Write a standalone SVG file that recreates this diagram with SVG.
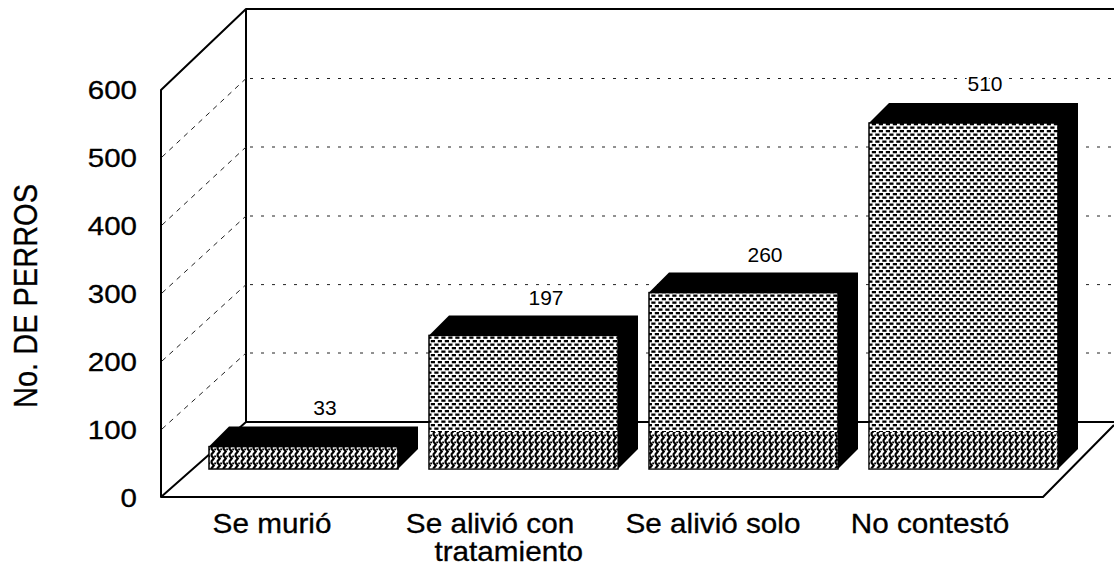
<svg xmlns="http://www.w3.org/2000/svg" width="1114" height="580" viewBox="0 0 1114 580">
<style>
.wall{fill:none;stroke:#000;stroke-width:2;stroke-linejoin:round}
.grid{fill:none;stroke:#222;stroke-width:1;stroke-dasharray:3 8}
.diag{fill:none;stroke:#222;stroke-width:1;stroke-dasharray:5 5}
.ax{font-family:"Liberation Sans",Arial,sans-serif;font-size:25px;fill:#000;text-anchor:end;stroke:#000;stroke-width:0.3}
.cat{font-family:"Liberation Sans",Arial,sans-serif;font-size:27px;fill:#000;text-anchor:middle;stroke:#000;stroke-width:0.3}
.val{font-family:"Liberation Sans",Arial,sans-serif;font-size:21px;fill:#000;text-anchor:middle;stroke:#fff;stroke-width:5;paint-order:stroke}
.title{font-family:"Liberation Sans",Arial,sans-serif;font-size:29px;fill:#000;text-anchor:middle;stroke:#000;stroke-width:0.3}
.dark{fill:#000}
.face{stroke:#000;stroke-width:1.5}
</style>
<defs>
<pattern id="dots" width="7" height="7" patternUnits="userSpaceOnUse">
<rect width="7" height="7" fill="#fff"/>
<rect x="0.3" y="0.5" width="4.2" height="2.3" fill="#000"/>
<rect x="3.8" y="4" width="4.2" height="2.3" fill="#000"/>
<rect x="-3.2" y="4" width="4.2" height="2.3" fill="#000"/>
</pattern>
<pattern id="zig" width="6" height="7" patternUnits="userSpaceOnUse">
<rect width="6" height="7" fill="#fff"/>
<path d="M1 0 L3.8 3.5 L1 7" fill="none" stroke="#000" stroke-width="2.2"/>
<rect x="4.2" y="0.5" width="1.8" height="1.8" fill="#000"/>
</pattern>
</defs>

<g id="walls">
<path class="wall" d="M246 9 L161 90 L161 497 L246 422 Z"/>
<path class="wall" d="M246 9 L1114 9"/>
<path class="wall" d="M161 497 L1043 497 L1114 425"/>
<path class="wall" d="M246 422 L1114 422" stroke-width="1.5"/>
</g>

<g id="gridlines">
<path class="grid" d="M250 78.5H1114M250 147H1114M250 216H1114M250 284.6H1114M250 353H1114"/>
<path class="diag" d="M162 157L246 78.5M162 225L246 147M162 293L246 216M162 361L246 284.6M162 429L246 353"/>
</g>

<g id="y-axis">
<g transform="translate(137,0) scale(1.18,1)">
<text class="ax" x="0" y="99">600</text>
<text class="ax" x="0" y="167">500</text>
<text class="ax" x="0" y="235">400</text>
<text class="ax" x="0" y="303">300</text>
<text class="ax" x="0" y="371">200</text>
<text class="ax" x="0" y="439">100</text>
<text class="ax" x="0" y="507">0</text>
</g>
<text class="title" transform="translate(37,296) rotate(-90) scale(1,1.15)" x="0" y="0">No. DE PERROS</text>
</g>

<g id="bar-se-murio">
<path class="dark" d="M209 446.6L229 426.6L418 426.6L418 449L398 469L398 446.6Z"/>
<rect class="face" x="209" y="446.6" width="189" height="22.4" fill="url(#zig)"/>
<text class="val" x="325" y="415">33</text>
</g>

<g id="bar-tratamiento">
<path class="dark" d="M429 335.4L449 315.4L638 315.4L638 449L618 469L618 335.4Z"/>
<rect class="face" x="429" y="335.4" width="189" height="133.6" fill="url(#dots)"/>
<rect x="429.75" y="432" width="187.5" height="36.25" fill="url(#zig)"/>
<text class="val" x="546" y="305">197</text>
</g>

<g id="bar-solo">
<path class="dark" d="M649 292.6L669 272.6L858 272.6L858 449L838 469L838 292.6Z"/>
<rect class="face" x="649" y="292.6" width="189" height="176.4" fill="url(#dots)"/>
<rect x="649.75" y="432" width="187.5" height="36.25" fill="url(#zig)"/>
<text class="val" x="765" y="262">260</text>
</g>

<g id="bar-no-contesto">
<path class="dark" d="M869 123L889 103L1078 103L1078 449L1058 469L1058 123Z"/>
<rect class="face" x="869" y="123" width="189" height="346" fill="url(#dots)"/>
<rect x="869.75" y="432" width="187.5" height="36.25" fill="url(#zig)"/>
<text class="val" x="985" y="91">510</text>
</g>

<g id="x-labels">
<g transform="translate(272,0) scale(1.1,1)"><text class="cat" x="0" y="533">Se murió</text></g>
<g transform="translate(490,0) scale(1.1,1)"><text class="cat" x="0" y="533">Se alivió con</text><text class="cat" x="17" y="561">tratamiento</text></g>
<g transform="translate(713,0) scale(1.1,1)"><text class="cat" x="0" y="533">Se alivió solo</text></g>
<g transform="translate(930,0) scale(1.1,1)"><text class="cat" x="0" y="533">No contestó</text></g>
</g>
</svg>
